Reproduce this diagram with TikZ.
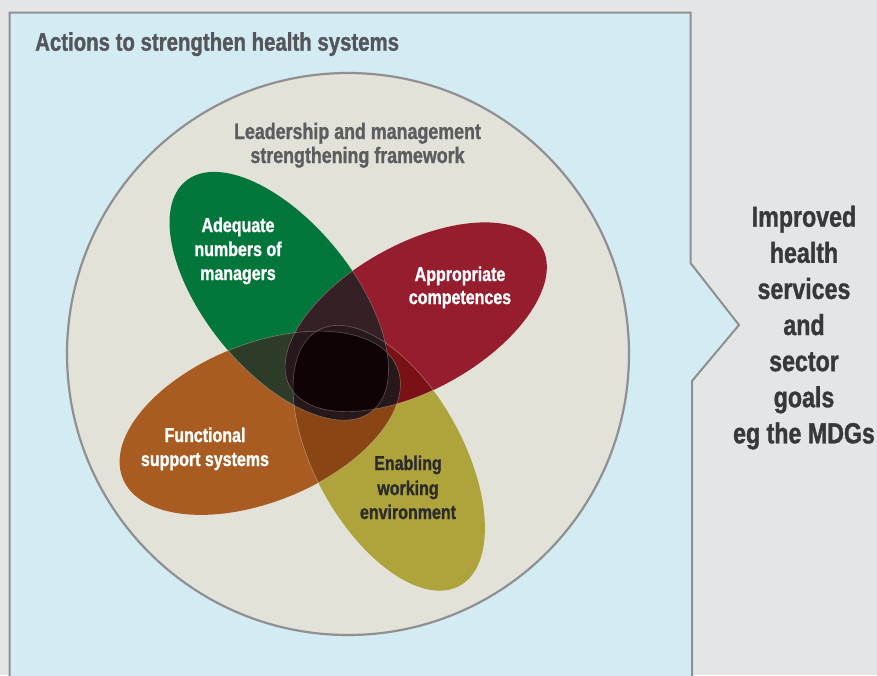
\documentclass[tikz,border=0pt]{standalone}
\usepackage{fontspec}
\newfontfamily\cond{Liberation Sans Bold}[FakeStretch=0.8, FakeBold=1.1]
\definecolor{bggray}{HTML}{E4E5E7}
\definecolor{panelcol}{HTML}{D3ECF3}
\definecolor{panelline}{HTML}{8E8F91}
\definecolor{circfill}{HTML}{E2E2D8}
\definecolor{circline}{HTML}{909092}
\definecolor{cG}{HTML}{03773B}
\definecolor{cR}{HTML}{961D2E}
\definecolor{cO}{HTML}{A85C21}
\definecolor{cY}{HTML}{AEA43B}
\definecolor{cGR}{HTML}{352025}
\definecolor{cGO}{HTML}{2D3B29}
\definecolor{cRY}{HTML}{7A1117}
\definecolor{cOY}{HTML}{8A4514}
\definecolor{cGY}{HTML}{2C2A20}
\definecolor{cRO}{HTML}{6B1C1A}
\definecolor{cTri}{HTML}{27181B}
\definecolor{cQuad}{HTML}{100305}
\definecolor{titlecol}{HTML}{55565A}
\definecolor{leadcol}{HTML}{5C5D60}
\definecolor{goalcol}{HTML}{37383A}
\definecolor{darktext}{HTML}{2B2B2B}
\def\pG{[rotate around={-51:(279,296)}] (279,296) ellipse [x radius=148pt, y radius=74pt]}
\def\pR{[rotate around={29:(416,317)}] (416,317) ellipse [x radius=144pt, y radius=73pt]}
\def\pO{[rotate around={22:(260,423)}] (260,423) ellipse [x radius=148pt, y radius=79pt]}
\def\pY{[rotate around={-61:(389,458)}] (389,458) ellipse [x radius=146pt, y radius=74pt]}
\tikzset{
  ttl/.style={font=\cond\fontsize{25.5}{30}\selectfont, text=titlecol, inner sep=0pt, anchor=base west},
  lead/.style={font=\cond\fontsize{22.3}{26}\selectfont, text=leadcol, inner sep=0pt, anchor=base},
  petal/.style={font=\cond\fontsize{20}{24}\selectfont, text=white, inner sep=0pt, anchor=base},
  petaldark/.style={petal, text=darktext},
  goal/.style={font=\cond\fontsize{29}{36}\selectfont, text=goalcol, inner sep=0pt, anchor=base},
  seam/.style={draw=white, draw opacity=0.28, line width=0.6pt}
}
\begin{document}
\begin{tikzpicture}[x=1pt,y=-1pt]
\useasboundingbox (0,0) rectangle (877,675);
\fill[bggray] (0,0) rectangle (877,675);
% panel
\draw[fill=panelcol, draw=panelline, line width=2pt]
  (9.5,12.5) -- (690.5,12.5) -- (690.5,263) -- (739,325) -- (692,381) -- (692,690) -- (9.5,690) -- cycle;
% framework circle
\draw[fill=circfill, draw=circline, line width=2.2pt] (348,354) circle [radius=281pt];
% base petals
\fill[cG] \pG;
\fill[cR] \pR;
\fill[cO] \pO;
\fill[cY] \pY;
% pairwise overlaps
\begin{scope}\clip \pG; \fill[cGR] \pR; \end{scope}
\begin{scope}\clip \pG; \fill[cGO] \pO; \end{scope}
\begin{scope}\clip \pG; \fill[cGY] \pY; \end{scope}
\begin{scope}\clip \pR; \fill[cRO] \pO; \end{scope}
\begin{scope}\clip \pR; \fill[cRY] \pY; \end{scope}
\begin{scope}\clip \pO; \fill[cOY] \pY; \end{scope}
% triple overlaps
\begin{scope}\clip \pG; \clip \pR; \fill[cTri] \pO; \end{scope}
\begin{scope}\clip \pG; \clip \pR; \fill[cTri] \pY; \end{scope}
\begin{scope}\clip \pG; \clip \pO; \fill[cTri] \pY; \end{scope}
\begin{scope}\clip \pR; \clip \pO; \fill[cTri] \pY; \end{scope}
% all four
\begin{scope}\clip \pG; \clip \pR; \clip \pO; \fill[cQuad] \pY; \end{scope}
% faint seams where outlines cross other petals
\begin{scope}\clip {\pR} {\pO} {\pY}; \path[seam] \pG; \end{scope}
\begin{scope}\clip {\pG} {\pO} {\pY}; \path[seam] \pR; \end{scope}
\begin{scope}\clip {\pG} {\pR} {\pY}; \path[seam] \pO; \end{scope}
\begin{scope}\clip {\pG} {\pR} {\pO}; \path[seam] \pY; \end{scope}
% texts
\node[ttl] (title) at (35,50.7) {Actions to strengthen health systems};
\node[lead] (lead1) at (357.5,139) {Leadership and management};
\node[lead] (lead2) at (357.5,163) {strengthening framework};
\node[petal] (g1) at (238,232) {Adequate};
\node[petal] (g2) at (238,256) {numbers of};
\node[petal] (g3) at (238,280) {managers};
\node[petal] (r1) at (460,281) {Appropriate};
\node[petal] (r2) at (460,304) {competences};
\node[petal] (o1) at (205,442) {Functional};
\node[petal] (o2) at (205,466) {support systems};
\node[petaldark] (y1) at (408,470) {Enabling};
\node[petaldark] (y2) at (408,495) {working};
\node[petaldark] (y3) at (408,519) {environment};
\node[goal] (t1) at (804,226.7) {Improved};
\node[goal] (t2) at (804,262.8) {health};
\node[goal] (t3) at (804,298.9) {services};
\node[goal] (t4) at (804,335) {and};
\node[goal] (t5) at (804,371.1) {sector};
\node[goal] (t6) at (804,407.2) {goals};
\node[goal] (t7) at (804,443.3) {eg the MDGs};
\end{tikzpicture}
\end{document}
